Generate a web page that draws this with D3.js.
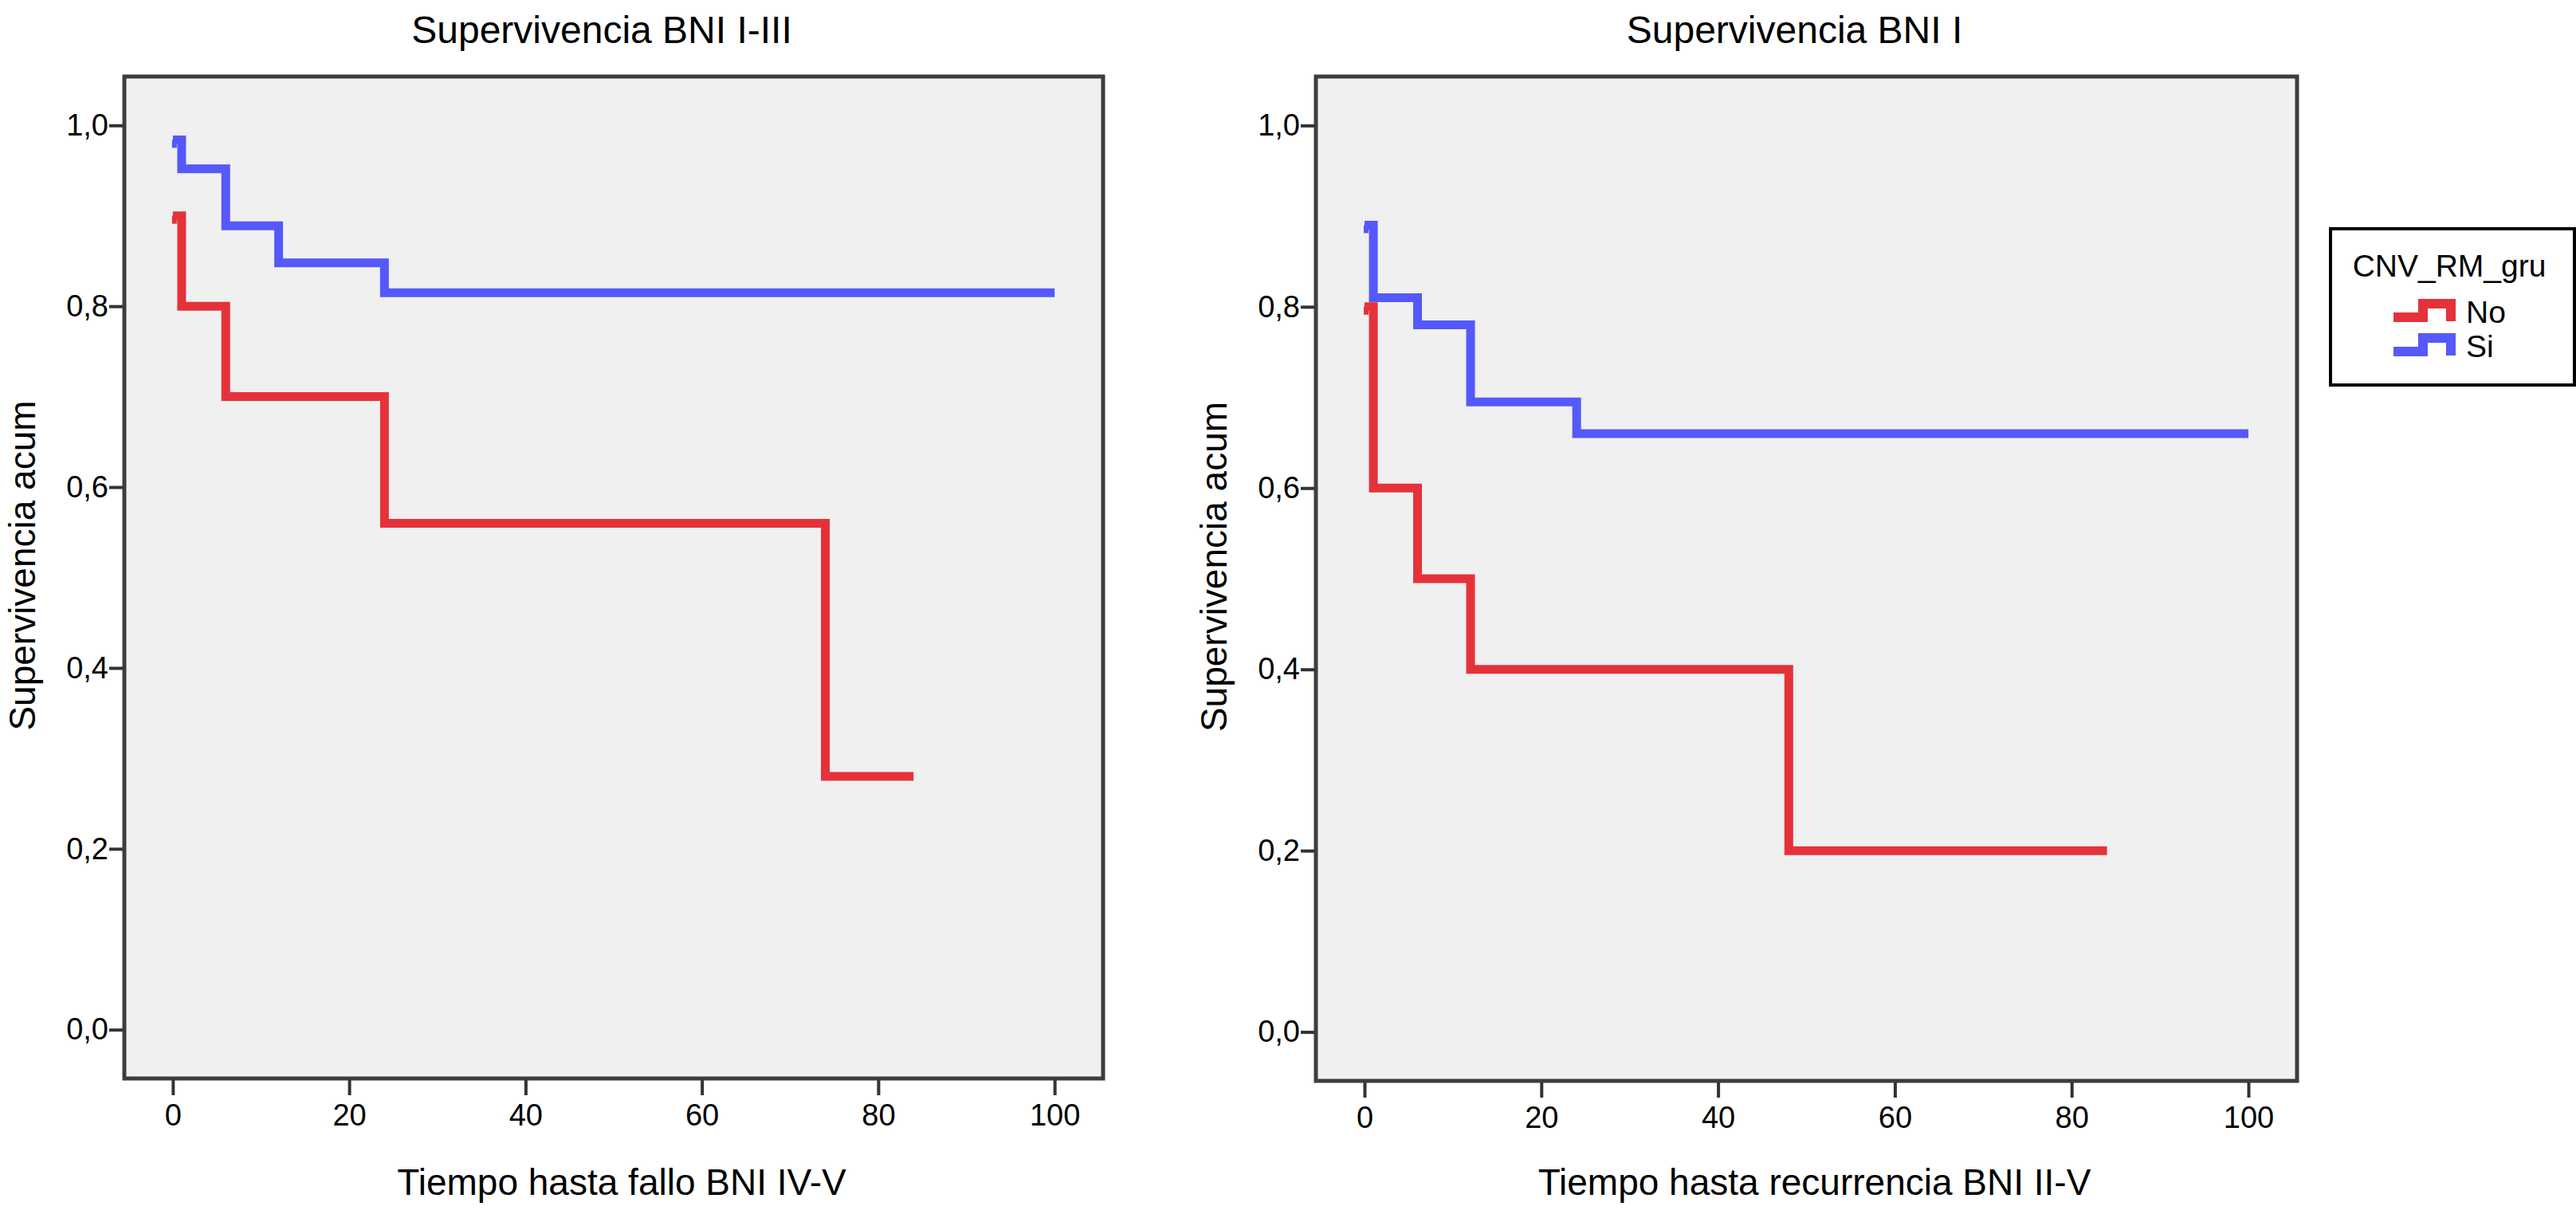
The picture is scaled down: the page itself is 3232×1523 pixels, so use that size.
<!DOCTYPE html>
<html>
<head>
<meta charset="utf-8">
<script src="https://cdn.jsdelivr.net/npm/d3@7"></script>
<style>
  body { margin: 0; background: #fff; }
  text { font-family: "Liberation Sans", Arial, Helvetica, sans-serif; fill: #000; }
</style>
</head>
<body>
<script>
// groups of the legend
const groups = ['No', 'Si']
const groupColors = ['#e5323a', '#5558fb']
const legendTitle = 'CNV_RM_gru'

const xTicks = [0, 20, 40, 60, 80, 100]
const yTicks = [0, 0.2, 0.4, 0.6, 0.8, 1.0]

// left panel: Supervivencia BNI I-III
const timeNoA = [0, 1, 6, 24, 74, 84]
const survNoA = [0.9, 0.8, 0.7, 0.56, 0.28, 0.28]
const timeSiA = [0, 1, 6, 12, 24, 100]
const survSiA = [0.984, 0.952, 0.889, 0.848, 0.815, 0.815]

// right panel: Supervivencia BNI I
const timeNoB = [0, 1, 6, 12, 48, 84]
const survNoB = [0.8, 0.6, 0.5, 0.4, 0.2, 0.2]
const timeSiB = [0, 1, 6, 12, 24, 100]
const survSiB = [0.89, 0.81, 0.78, 0.695, 0.66, 0.66]

const titles = ['Supervivencia BNI I-III', 'Supervivencia BNI I']
const xTitles = ['Tiempo hasta fallo BNI IV-V', 'Tiempo hasta recurrencia BNI II-V']
const yTitle = 'Supervivencia acum'

const width = 3232
const height = 1523

const panels = [
    { left: 156, right: 1384, top: 96, bottom: 1353, title: titles[0], xTitle: xTitles[0],
      series: [[timeNoA, survNoA], [timeSiA, survSiA]] },
    { left: 1651, right: 2882, top: 96, bottom: 1356, title: titles[1], xTitle: xTitles[1],
      series: [[timeNoB, survNoB], [timeSiB, survSiB]] }
]

const comma = d3.formatLocale({ decimal: ',', thousands: '.', grouping: [3], currency: ['', ''] }).format('.1f')

const svg = d3.select('body').append('svg')
    .attr('width', width).attr('height', height)

panels.forEach(p => {
    const x = d3.scaleLinear().domain([-5.5, 105.5]).range([p.left, p.right])
    const y = d3.scaleLinear().domain([-0.054, 1.054]).range([p.bottom, p.top])
    const g = svg.append('g')

    g.append('rect')
        .attr('x', p.left).attr('y', p.top)
        .attr('width', p.right - p.left).attr('height', p.bottom - p.top)
        .attr('fill', '#f0f0f0')

    const line = d3.line()
        .x(d => x(d[0]))
        .y(d => y(d[1]))
        .curve(d3.curveStepAfter)

    p.series.forEach(([times, surv], i) => {
        const pts = times.map((t, k) => [t, surv[k]])
        g.append('path')
            .attr('d', line(pts))
            .attr('fill', 'none')
            .attr('stroke', groupColors[i])
            .attr('stroke-width', 11)
            .attr('stroke-linejoin', 'miter')
        // little hook at the start of each curve
        g.append('rect')
            .attr('x', x(times[0]) - 1).attr('y', y(surv[0]))
            .attr('width', 6).attr('height', 10)
            .attr('fill', groupColors[i])
    })

    // frame
    g.append('rect')
        .attr('x', p.left).attr('y', p.top)
        .attr('width', p.right - p.left).attr('height', p.bottom - p.top)
        .attr('fill', 'none')
        .attr('stroke', '#3d3d3d')
        .attr('stroke-width', 5)

    const yAxis = g.append('g')
        .attr('transform', `translate(${p.left - 2},0)`)
        .call(d3.axisLeft(y).tickValues(yTicks).tickFormat(comma).tickSize(17).tickPadding(1))
    const xAxis = g.append('g')
        .attr('transform', `translate(0,${p.bottom + 2})`)
        .call(d3.axisBottom(x).tickValues(xTicks).tickSize(19).tickPadding(11))

    ;[xAxis, yAxis].forEach(a => {
        a.select('.domain').remove()
        a.selectAll('line').attr('stroke', '#333').attr('stroke-width', 4)
        a.selectAll('text').style('font-size', '38px').attr('fill', '#000')
    })

    g.append('text')
        .attr('x', (p.left + p.right) / 2 - 15).attr('y', 54)
        .attr('text-anchor', 'middle')
        .style('font-size', '48px')
        .text(p.title)

    g.append('text')
        .attr('x', (p.left + p.right) / 2 + 10).attr('y', 1499)
        .attr('text-anchor', 'middle')
        .style('font-size', '46px')
        .text(p.xTitle)

    g.append('text')
        .attr('transform', `translate(${p.left - 112},${(p.top + p.bottom) / 2 - 15}) rotate(-90)`)
        .attr('text-anchor', 'middle')
        .style('font-size', '46px')
        .text(yTitle)
})

// legend
const legend = svg.append('g').attr('transform', 'translate(2924,287)')
legend.append('rect')
    .attr('width', 306).attr('height', 196)
    .attr('fill', '#fff').attr('stroke', '#000').attr('stroke-width', 4)
legend.append('text')
    .attr('x', 149).attr('y', 60)
    .attr('text-anchor', 'middle')
    .style('font-size', '39px')
    .text(legendTitle)

groups.forEach((name, i) => {
    const row = legend.append('g').attr('transform', `translate(0,${111 + i * 43})`)
    row.append('path')
        .attr('d', 'M79,0 H116 V-17 H151 V5')
        .attr('fill', 'none')
        .attr('stroke', groupColors[i])
        .attr('stroke-width', 12)
    row.append('text')
        .attr('x', 170).attr('y', 7)
        .style('font-size', '39px')
        .text(name)
})
</script>
</body>
</html>
